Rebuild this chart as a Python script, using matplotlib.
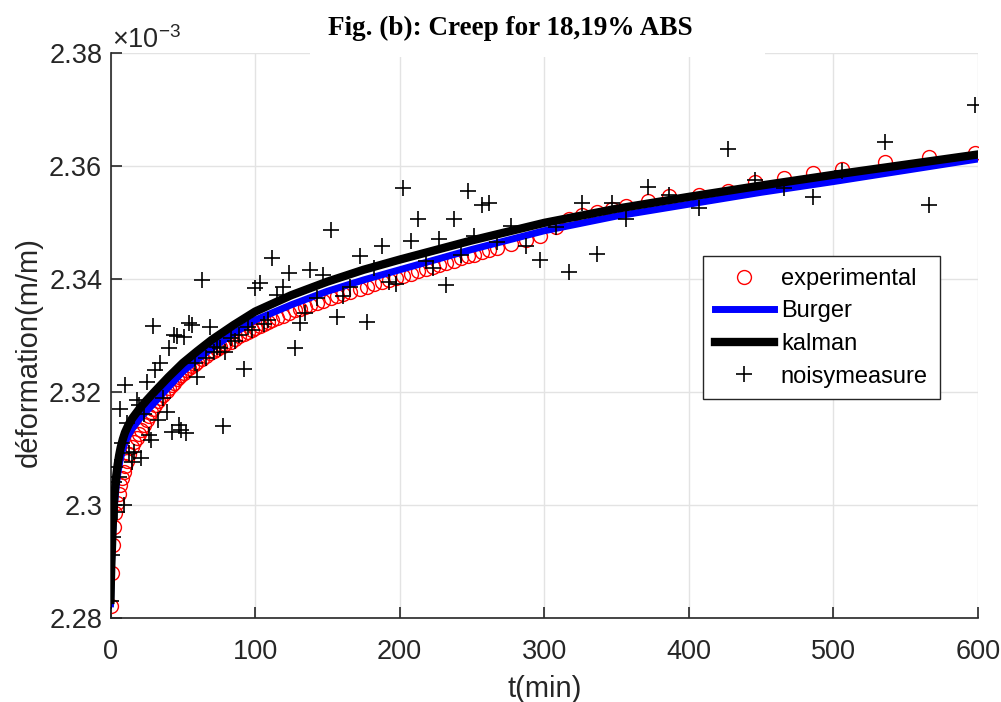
import matplotlib.pyplot as plt
from matplotlib.patches import Rectangle

plt.rcParams['font.family'] = ['Liberation Sans', 'DejaVu Sans']
plt.rcParams['mathtext.fontset'] = 'custom'
plt.rcParams['mathtext.rm'] = 'Liberation Sans'

t_meas = [0, 0.7, 1.5, 2.3, 3.4, 4.5, 5.7, 6.9, 8, 9, 10.3, 11.5, 13, 15, 16.5, 18, 19.5,
          21, 23, 25, 26.5, 28, 29.5, 31, 33, 34.5, 36.5, 39, 40.5, 42.5, 44, 46, 47.5,
          49, 50.5, 52.5, 54.5, 56.5, 58.5, 60, 63, 66, 69, 71.5, 73.5, 76, 78, 79.5, 83,
          86, 89, 92, 95, 98, 100, 103.5, 106, 109, 112, 115, 119, 123.5, 127.5, 131,
          134.5, 138, 142.5, 147, 152.5, 157, 161, 165.5, 172.5, 177.5, 182.5, 187.5,
          192.5, 197.5, 202, 207.5, 212.5, 218.5, 223, 227.5, 232, 237.5, 242.5, 247.5,
          251.5, 257, 262, 267.5, 277, 287.5, 297, 308, 317, 326, 336.5, 347, 356.5,
          371.5, 386, 407, 427, 446, 466, 486, 506, 536, 566, 598]

eps_experimental = [2.2822, 2.2880, 2.2929, 2.2961, 2.2985, 2.3003, 2.3020, 2.3036, 2.3048,
                    2.3058, 2.3068, 2.3078, 2.3090, 2.3102, 2.3111, 2.3119, 2.3126, 2.3133,
                    2.3142, 2.3151, 2.3158, 2.3164, 2.3170, 2.3176, 2.3183, 2.3189, 2.3195,
                    2.3202, 2.3206, 2.3212, 2.3216, 2.3222, 2.3226, 2.3230, 2.3234, 2.3238,
                    2.3242, 2.3246, 2.3250, 2.3253, 2.3258, 2.3263, 2.3268, 2.3272, 2.3275,
                    2.3279, 2.3282, 2.3284, 2.3289, 2.3294, 2.3298, 2.3302, 2.3306, 2.3310,
                    2.3313, 2.3317, 2.3320, 2.3324, 2.3327, 2.3331, 2.3335, 2.3340, 2.3344,
                    2.3347, 2.3350, 2.3353, 2.3357, 2.3361, 2.3366, 2.3370, 2.3373, 2.3377,
                    2.3382, 2.3386, 2.3390, 2.3394, 2.3398, 2.3402, 2.3405, 2.3409, 2.3413,
                    2.3417, 2.3421, 2.3424, 2.3428, 2.3432, 2.3436, 2.3440, 2.3443, 2.3447,
                    2.3451, 2.3455, 2.3462, 2.3469, 2.3476, 2.3492, 2.3506, 2.3513, 2.3519,
                    2.3523, 2.3529, 2.3538, 2.3547, 2.3548, 2.3556, 2.3571, 2.3578, 2.3587,
                    2.3595, 2.3607, 2.3615, 2.3623]

eps_noisy = [2.2830, 2.2912, 2.2943, 2.3040, 2.3067, 2.2988, 2.3050, 2.3170, 2.3110, 2.3000,
             2.3213, 2.3145, 2.3092, 2.3076, 2.3094, 2.3186, 2.3177, 2.3083, 2.3160, 2.3218,
             2.3124, 2.3115, 2.3317, 2.3239, 2.3150, 2.3251, 2.3190, 2.3165, 2.3278, 2.3129,
             2.3300, 2.3298, 2.3141, 2.3133, 2.3297, 2.3127, 2.3322, 2.3319, 2.3251, 2.3227,
             2.3398, 2.3260, 2.3315, 2.3270, 2.3280, 2.3278, 2.3140, 2.3271, 2.3295, 2.3290,
             2.3300, 2.3241, 2.3315, 2.3310, 2.3384, 2.3393, 2.3320, 2.3327, 2.3437, 2.3372,
             2.3386, 2.3410, 2.3278, 2.3322, 2.3340, 2.3416, 2.3366, 2.3407, 2.3487, 2.3333,
             2.3370, 2.3386, 2.3440, 2.3324, 2.3420, 2.3458, 2.3395, 2.3391, 2.3560, 2.3467,
             2.3505, 2.3432, 2.3420, 2.3470, 2.3389, 2.3506, 2.3442, 2.3555, 2.3476, 2.3530,
             2.3535, 2.3465, 2.3494, 2.3458, 2.3434, 2.3492, 2.3412, 2.3535, 2.3444, 2.3535,
             2.3505, 2.3563, 2.3549, 2.3525, 2.3630, 2.3575, 2.3560, 2.3545, 2.3590, 2.3642,
             2.3530, 2.3708]

# model curves
t_model = [0, 0.25, 0.5, 1, 1.5, 2, 3, 4, 5, 6, 7, 8.5, 10, 12.5, 15, 20, 25, 30, 40, 50,
           60, 70, 85, 100, 125, 150, 175, 200, 250, 300, 350, 400, 450, 500, 550, 600]
eps_burger = [2.2825, 2.2858, 2.2885, 2.2920, 2.2950, 2.2975, 2.3008, 2.3034, 2.3054,
              2.3070, 2.3083, 2.3098, 2.3110, 2.3124, 2.3135, 2.3152, 2.3166, 2.3180,
              2.3208, 2.3236, 2.3257, 2.3277, 2.3303, 2.3327, 2.3354, 2.3378, 2.3398,
              2.3416, 2.3452, 2.3485, 2.3511, 2.3532, 2.3553, 2.3572, 2.3592, 2.3612]
eps_kalman = [2.2832, 2.2865, 2.2890, 2.2926, 2.2962, 2.2991, 2.3025, 2.3052, 2.3072,
              2.3088, 2.3101, 2.3116, 2.3128, 2.3142, 2.3153, 2.3170, 2.3185, 2.3199,
              2.3226, 2.3251, 2.3272, 2.3292, 2.3318, 2.3342, 2.3371, 2.3395, 2.3416,
              2.3434, 2.3468, 2.3499, 2.3524, 2.3545, 2.3565, 2.3584, 2.3602, 2.3620]

W, H = 1001, 702
fig = plt.figure(figsize=(W / 100, H / 100), dpi=100)
ax = fig.add_axes([110.5 / W, 84 / H, 867.5 / W, 565.3 / H])

ax.plot(t_meas, eps_experimental, 'o', mfc='none', mec='red', ms=10, mew=1.0,
        label='experimental', zorder=2)
ax.plot(t_model, eps_burger, '-', color='blue', lw=5, label='Burger', zorder=3)
ax.plot(t_model, eps_kalman, '-', color='black', lw=6, label='kalman', zorder=4)
ax.plot(t_meas, eps_noisy, '+', color='black', ms=12, mew=1.2,
        label='noisymeasure', zorder=5)

ax.set_xlim(0, 600)
ax.set_ylim(2.28, 2.38)
ax.set_xticks(range(0, 601, 100))
ax.set_yticks([2.28, 2.30, 2.32, 2.34, 2.36, 2.38])
ax.set_yticklabels(['2.28', '2.3', '2.32', '2.34', '2.36', '2.38'])
ax.grid(True, color='#e3e3e3', lw=1)
ax.set_axisbelow(True)
for s in ['top', 'right']:
    ax.spines[s].set_visible(False)
for s in ['left', 'bottom']:
    ax.spines[s].set_color('#262626')
    ax.spines[s].set_linewidth(1.2)
ax.tick_params(direction='in', length=8, width=1.2, colors='#262626',
               labelsize=19.5)
ax.tick_params(axis='y', pad=6)
ax.tick_params(axis='x', pad=15)

ax.set_xlabel('t(min)', fontsize=21, color='#262626', labelpad=7)
ax.set_ylabel('déformation(m/m)', fontsize=21, color='#262626')
ax.yaxis.set_label_coords(-0.078, 0.47)

fig.text(112 / W, 1 - 48 / H, r'$\times10^{-3}$', fontsize=19.5, color='#262626')

# white box behind the title, covering the top grid line
fig.patches.append(Rectangle((310 / W, 1 - 57 / H), 455 / W, 57 / H,
                             transform=fig.transFigure, facecolor='white',
                             edgecolor='none', zorder=5))
fig.text(510 / W, 1 - 28 / H, 'Fig. (b): Creep for 18,19% ABS', fontsize=19.5,
         fontweight='bold', family='Liberation Serif', ha='center', va='center',
         zorder=6)

leg = ax.legend(loc='upper left', bbox_to_anchor=(703 / W, 1 - 256 / H),
                bbox_transform=fig.transFigure, fontsize=17, frameon=True,
                fancybox=False, framealpha=1, edgecolor='#262626',
                handlelength=2.5, handletextpad=0.3, labelspacing=0.45,
                borderpad=0.5, borderaxespad=0)
leg.get_frame().set_linewidth(1.0)

fig.savefig('out.png', dpi=100)
